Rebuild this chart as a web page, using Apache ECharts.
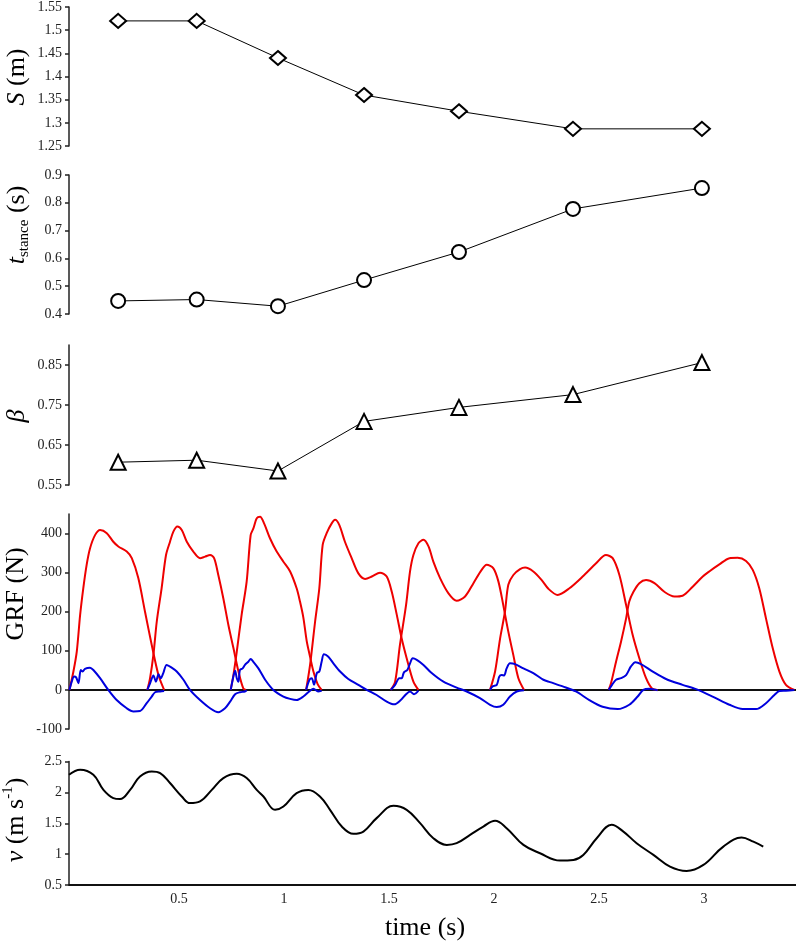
<!DOCTYPE html>
<html><head><meta charset="utf-8">
<script src="https://cdn.jsdelivr.net/npm/echarts@6/dist/echarts.min.js"></script>
<style>html,body{margin:0;padding:0;background:#fff}#c{width:796px;height:944px}</style>
</head><body><div id="c"></div>
<script>
// ---- data ----
const stepTimes = [0.21, 0.584, 0.971, 1.381, 1.833, 2.376, 2.99];
const strideLength = [1.52, 1.52, 1.44, 1.36, 1.325, 1.287, 1.287];
const stanceTime = [0.447, 0.452, 0.428, 0.522, 0.623, 0.778, 0.853];
const dutyFactor = [0.607, 0.612, 0.585, 0.709, 0.744, 0.776, 0.856];
const timeTicks = [0.5, 1, 1.5, 2, 2.5, 3];
const betaTicks = [0.55, 0.65, 0.75, 0.85];
const grfTicks = [-100, 0, 100, 200, 300, 400];

const grfV1 = [[-0.022,0],[-0.003,47],[0.013,98],[0.029,192],[0.044,260],[0.060,320],[0.076,362],[0.100,396],[0.124,409],[0.156,401],[0.187,379],[0.211,367],[0.251,354],[0.275,337],[0.306,286],[0.338,200],[0.370,115],[0.402,38],[0.429,0]];
const grfV2 = [[0.349,0],[0.362,30],[0.378,90],[0.394,175],[0.417,260],[0.438,345],[0.457,379],[0.473,405],[0.492,418],[0.513,409],[0.537,379],[0.568,354],[0.600,337],[0.624,341],[0.648,345],[0.667,337],[0.687,294],[0.711,234],[0.735,166],[0.759,107],[0.783,47],[0.806,4],[0.819,0]];
const grfV3 = [[0.746,0],[0.759,38],[0.775,98],[0.798,192],[0.822,277],[0.841,396],[0.854,413],[0.870,439],[0.886,443],[0.905,426],[0.933,388],[0.965,354],[0.997,328],[1.029,303],[1.060,260],[1.076,226],[1.092,185],[1.108,125],[1.124,85],[1.140,47],[1.160,15],[1.179,0]];
const grfV4 = [[1.105,0],[1.124,64],[1.148,175],[1.168,260],[1.184,371],[1.203,401],[1.227,426],[1.243,435],[1.263,422],[1.290,379],[1.322,337],[1.354,298],[1.386,284],[1.418,290],[1.457,300],[1.489,290],[1.513,251],[1.537,192],[1.560,132],[1.584,81],[1.616,21],[1.640,0]];
const grfV5 = [[1.508,0],[1.529,21],[1.552,115],[1.581,217],[1.600,303],[1.616,345],[1.640,375],[1.664,384],[1.688,367],[1.711,328],[1.743,286],[1.783,247],[1.822,228],[1.862,239],[1.902,273],[1.941,307],[1.965,320],[1.997,311],[2.021,277],[2.044,217],[2.068,149],[2.092,89],[2.116,30],[2.143,0]];
const grfV6 = [[1.981,0],[2.005,47],[2.029,132],[2.052,200],[2.068,269],[2.092,294],[2.124,309],[2.148,313],[2.187,303],[2.227,281],[2.260,258],[2.303,243],[2.359,260],[2.422,290],[2.486,324],[2.533,345],[2.565,337],[2.597,294],[2.629,217],[2.660,141],[2.692,81],[2.724,30],[2.752,4],[2.779,0]];
const grfV7 = [[2.546,0],[2.557,17],[2.581,72],[2.605,124],[2.629,183],[2.644,226],[2.664,251],[2.692,273],[2.724,281],[2.764,273],[2.811,251],[2.859,239],[2.898,241],[2.946,264],[2.994,290],[3.025,303],[3.073,321],[3.121,337],[3.160,338],[3.200,330],[3.232,307],[3.263,260],[3.295,183],[3.327,107],[3.359,47],[3.390,13],[3.430,0]];

const grfH1 = [[-0.022,0],[-0.011,21],[0.000,34],[0.010,32],[0.021,17],[0.032,51],[0.041,47],[0.052,54],[0.076,57],[0.092,51],[0.124,30],[0.163,0],[0.203,-26],[0.251,-47],[0.283,-55],[0.314,-54],[0.346,-34],[0.370,-17],[0.386,-6],[0.410,-4],[0.429,-3]];
const grfH2 = [[0.349,0],[0.362,17],[0.378,37],[0.390,21],[0.402,40],[0.413,30],[0.425,43],[0.441,64],[0.465,57],[0.489,47],[0.521,26],[0.552,0],[0.600,-26],[0.648,-47],[0.687,-57],[0.719,-47],[0.743,-30],[0.767,-11],[0.790,-6],[0.814,-4],[0.822,-1]];
const grfH3 = [[0.746,0],[0.757,30],[0.767,49],[0.775,30],[0.783,21],[0.790,51],[0.803,55],[0.814,64],[0.830,72],[0.841,79],[0.854,72],[0.878,55],[0.910,26],[0.949,0],[0.997,-17],[1.029,-23],[1.060,-26],[1.092,-17],[1.124,-2],[1.140,3],[1.162,-4],[1.179,-2]];
const grfH4 = [[1.105,0],[1.121,26],[1.132,30],[1.143,13],[1.156,43],[1.168,47],[1.179,72],[1.190,91],[1.211,85],[1.235,68],[1.267,47],[1.306,28],[1.354,13],[1.394,0],[1.441,-13],[1.489,-30],[1.525,-37],[1.552,-28],[1.581,-11],[1.600,-4],[1.619,-11],[1.640,-2]];
const grfH5 = [[1.508,0],[1.529,13],[1.549,30],[1.560,30],[1.571,45],[1.587,51],[1.600,68],[1.613,81],[1.632,77],[1.664,64],[1.703,43],[1.759,21],[1.822,6],[1.870,-4],[1.933,-21],[1.981,-38],[2.013,-44],[2.044,-38],[2.076,-17],[2.108,-4],[2.143,-1]];
const grfH6 = [[1.981,0],[1.993,9],[2.013,13],[2.025,34],[2.036,38],[2.048,37],[2.060,55],[2.076,68],[2.100,66],[2.140,55],[2.187,43],[2.235,26],[2.267,20],[2.327,9],[2.390,-4],[2.454,-26],[2.517,-43],[2.589,-49],[2.644,-38],[2.684,-17],[2.711,0],[2.740,3],[2.779,-1]];
const grfH7 = [[2.546,0],[2.562,13],[2.581,26],[2.605,30],[2.629,38],[2.652,60],[2.673,71],[2.700,66],[2.756,47],[2.819,28],[2.898,13],[2.962,2],[3.041,-17],[3.121,-38],[3.184,-49],[3.248,-49],[3.295,-34],[3.335,-13],[3.359,-3],[3.390,-2],[3.430,0]];

const velocity = [[-0.024,2.286],[0.029,2.367],[0.092,2.286],[0.140,2.04],[0.187,1.907],[0.219,1.891],[0.267,2.04],[0.314,2.258],[0.370,2.339],[0.410,2.313],[0.457,2.151],[0.513,1.934],[0.552,1.826],[0.600,1.853],[0.656,2.04],[0.711,2.232],[0.775,2.302],[0.822,2.232],[0.870,2.04],[0.902,1.934],[0.957,1.718],[0.997,1.771],[1.060,1.988],[1.116,2.04],[1.171,1.934],[1.219,1.718],[1.275,1.447],[1.330,1.328],[1.378,1.365],[1.441,1.583],[1.521,1.782],[1.584,1.718],[1.648,1.502],[1.711,1.258],[1.775,1.149],[1.822,1.177],[1.886,1.312],[1.949,1.447],[2.005,1.539],[2.060,1.420],[2.140,1.149],[2.219,1.014],[2.314,0.895],[2.378,0.906],[2.425,0.987],[2.489,1.258],[2.560,1.474],[2.616,1.365],[2.679,1.177],[2.759,0.987],[2.838,0.797],[2.917,0.727],[2.997,0.825],[3.092,1.122],[3.179,1.268],[3.235,1.203],[3.282,1.122]];

// ---- chart ----
const FONT = 'Liberation Serif';
const X_MIN = -0.024, X_MAX = 3.438;
const grids = [
  {left: 69, right: 0, top: 5.5, height: 140.5},
  {left: 69, right: 0, top: 175, height: 139},
  {left: 69, right: 0, top: 345, height: 140},
  {left: 69, right: 0, top: 514, height: 215},
  {left: 69, right: 0, top: 761.5, height: 123.5}
];
const axisLineStyle = {color: '#222', width: 1.5};
const yLabel = {fontFamily: FONT, fontSize: 14, color: '#222', margin: 7};
function yAx(i, min, max, extra) {
  return Object.assign({
    type: 'value', gridIndex: i, min: min, max: max,
    axisLine: {show: true, onZero: false, lineStyle: axisLineStyle},
    axisTick: {show: true, length: 4, lineStyle: axisLineStyle},
    axisLabel: Object.assign({}, yLabel),
    splitLine: {show: false}
  }, extra || {});
}
function xAx(i, extra) {
  return Object.assign({
    type: 'value', gridIndex: i, min: X_MIN, max: X_MAX, show: false,
    splitLine: {show: false}
  }, extra || {});
}
const pair = (arr) => stepTimes.map((t, i) => [t, arr[i]]);
const markerSeries = (i, arr, symbol, size) => ({
  type: 'line', xAxisIndex: i, yAxisIndex: i, data: pair(arr),
  symbol: symbol, symbolSize: size, showSymbol: true,
  lineStyle: {color: '#000', width: 1},
  itemStyle: {color: '#fff', borderColor: '#000', borderWidth: 2},
  z: 3
});
const curve = (data, color, width) => ({
  type: 'line', xAxisIndex: 3, yAxisIndex: 3, data: data,
  showSymbol: false, symbol: 'none', smooth: 0.3,
  lineStyle: {color: color, width: width}, z: 2
});
const RED = '#ee0000', BLUE = '#0000dd';

const titleBase = {fontFamily: FONT, fontSize: 26, fill: '#000', align: 'center', verticalAlign: 'middle', lineHeight: 30};
function vTitle(x, y, text, rich) {
  return {type: 'text', x: x, y: y, rotation: Math.PI / 2,
    style: Object.assign({}, titleBase, {text: text, rich: rich || {}})};
}
const itRich = {it: {fontStyle: 'italic', fontFamily: FONT, fontSize: 26, lineHeight: 30, fill: '#000'}};

const option = {
  animation: false,
  backgroundColor: '#fff',
  grid: grids,
  xAxis: [
    xAx(0), xAx(1), xAx(2),
    xAx(3, {show: true, axisLine: {show: true, onZero: true, lineStyle: {color: '#111', width: 2}}, axisTick: {show: false}, axisLabel: {show: false}}),
    xAx(4, {show: true, axisLine: {show: true, onZero: false, lineStyle: {color: '#111', width: 2}}, axisTick: {show: false},
      axisLabel: {fontFamily: FONT, fontSize: 14, color: '#222', margin: 7, customValues: timeTicks}})
  ],
  yAxis: [
    yAx(0, 1.25, 1.55, {interval: 0.05}),
    yAx(1, 0.4, 0.9, {interval: 0.1}),
    yAx(2, 0.55, 0.9, {axisTick: {show: true, length: 4, lineStyle: axisLineStyle, customValues: betaTicks},
      axisLabel: Object.assign({}, yLabel, {customValues: betaTicks})}),
    yAx(3, -100, 450, {axisTick: {show: true, length: 4, lineStyle: axisLineStyle, customValues: grfTicks},
      axisLabel: Object.assign({}, yLabel, {customValues: grfTicks})}),
    yAx(4, 0.5, 2.5, {interval: 0.5})
  ],
  series: [
    markerSeries(0, strideLength, 'diamond', [16, 14]),
    markerSeries(1, stanceTime, 'circle', 14),
    markerSeries(2, dutyFactor, 'triangle', 15),
    curve(grfV1, RED, 2), curve(grfV2, RED, 2), curve(grfV3, RED, 2), curve(grfV4, RED, 2),
    curve(grfV5, RED, 2), curve(grfV6, RED, 2), curve(grfV7, RED, 2),
    curve(grfH1, BLUE, 2), curve(grfH2, BLUE, 2), curve(grfH3, BLUE, 2), curve(grfH4, BLUE, 2),
    curve(grfH5, BLUE, 2), curve(grfH6, BLUE, 2), curve(grfH7, BLUE, 2),
    {type: 'line', xAxisIndex: 4, yAxisIndex: 4, data: velocity, showSymbol: false, symbol: 'none', smooth: 0.4,
      lineStyle: {color: '#000', width: 2}}
  ],
  graphic: [
    vTitle(17, 77, '{it|S} (m)', itRich),
    vTitle(17, 225, '{it|t}{sub|stance} (s)', Object.assign({}, itRich, {sub: {fontFamily: FONT, fontSize: 15, lineHeight: 18, verticalAlign: 'bottom', fill: '#000'}})),
    vTitle(17, 416, '{it|β}', itRich),
    vTitle(16, 594, 'GRF (N)'),
    vTitle(16, 820, '{it|v} (m s{sup|-1})', Object.assign({}, itRich, {sup: {fontFamily: FONT, fontSize: 15, lineHeight: 18, verticalAlign: 'top', fill: '#000'}})),
    {type: 'text', x: 425, y: 928, style: Object.assign({}, titleBase, {text: 'time (s)'})}
  ]
};
const chart = echarts.init(document.getElementById('c'), null, {renderer: 'canvas'});
chart.setOption(option);
</script>
</body></html>
